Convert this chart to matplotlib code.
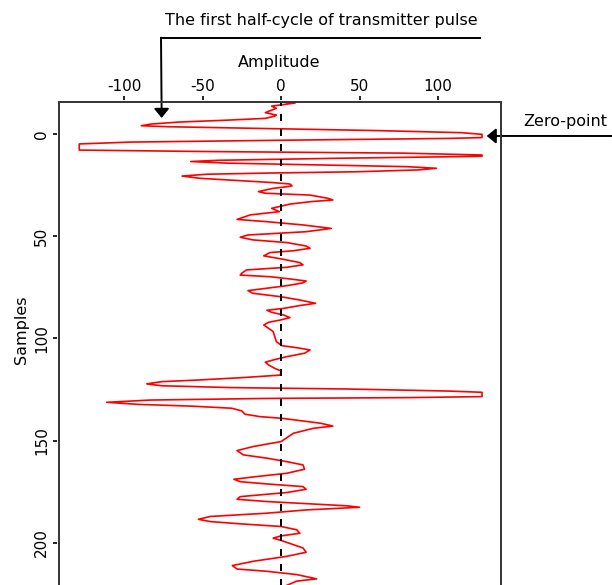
import matplotlib
matplotlib.use('Agg')
import matplotlib.pyplot as plt
from matplotlib.lines import Line2D
from matplotlib.patches import Rectangle

W, H = 612, 585

# trace vertices (sample index, amplitude)
samples = [-15.5, -15.0, -14.5, -13.5, -12.4, -10.3, -9.1, -8.6, -7.5, -6.6,
           -5.7, -4.7, -3.9, -3.4, -2.6, -1.5, -0.5, 0.3, 1.9, 2.3,
           3.1, 4.1, 5.0, 8.0, 8.7, 9.5, 10.4, 11.0, 11.2, 12.0,
           13.0, 13.6, 14.4, 15.3, 16.1, 16.9, 17.7, 18.6, 19.2, 19.8,
           20.7, 21.8, 22.9, 23.9, 24.6, 25.5, 26.0, 26.7, 28.3, 29.1,
           30.0, 31.6, 32.4, 33.2, 34.4, 36.5, 38.1, 39.7, 41.9, 43.0,
           44.6, 46.3, 47.9, 48.7, 49.5, 50.6, 51.9, 53.2, 54.9, 56.0,
           57.2, 58.1, 59.7, 61.4, 63.0, 64.1, 65.3, 66.6, 68.2, 69.1,
           69.9, 71.0, 72.0, 72.9, 74.3, 75.6, 76.7, 78.0, 79.7, 81.3,
           82.9, 84.0, 85.4, 86.3, 87.3, 88.6, 89.9, 91.0, 92.2, 93.5,
           95.1, 96.7, 99.2, 101.6, 103.6, 104.6, 105.7, 107.3, 109.0, 110.6,
           111.7, 113.0, 114.7, 116.0, 118.0, 119.2, 120.4, 121.2, 122.3, 123.2,
           124.1, 124.8, 125.8, 126.4, 128.5, 129.0, 129.4, 130.2, 131.3, 132.3,
           133.2, 134.2, 135.5, 137.1, 138.3, 139.1, 140.4, 141.5, 142.9, 144.0,
           146.4, 150.5, 152.9, 154.9, 157.0, 158.6, 160.3, 161.9, 164.0, 166.0,
           167.6, 168.9, 170.1, 171.2, 172.5, 173.8, 175.4, 177.4, 178.7, 179.8,
           181.0, 181.9, 182.6, 183.9, 185.5, 187.1, 188.5, 189.6, 190.7, 192.0,
           193.6, 195.3, 196.6, 197.7, 198.8, 200.9, 202.5, 204.6, 206.6, 209.0,
           211.1, 212.8, 213.9, 215.5, 217.6, 218.7, 221.0, 224.0]
amplitude = [1, 9, 4, -6, -3, -10, -3, -4, -10, -35,
             -65, -83, -89, -71, -14, 63, 115, 128, 128, 107,
             11, -96, -128.5, -128.5, -49.5, 78, 128, 128, 113, 36.5,
             -40, -57.5, -33.5, 27, 80, 99, 87.5, 48, -5, -47,
             -63, -51.6, -27, -5, 5.7, 7, 3, -5, -14.4, -10,
             18.5, 30, 33, 19, 5.7, -6, -1, -19.7, -28, -9,
             14, 32, 16, -3, -21, -26, -18, 3.6, 16, 18.5,
             8, -7, -11, 1.5, 12, 14, 3.6, -22, -25, -26,
             -7, 5.7, 16, 14, 3.6, -10, -21, -18, 0, 12,
             22, 12, 1.5, -9, -6, 1.5, 5.7, 0, -8, -11,
             -8, -5, -4, -3, 0.5, 10, 18.5, 15, 3.6, -5,
             -10, -8, -4, 0, -0.5, -24, -52.6, -76, -85.5, -76,
             -32.5, 43, 106.6, 128, 128, 82, -9, -83.4, -111, -91,
             -56, -31.4, -25, -23, -13.4, 0.4, 14, 25, 33, 20.6,
             8, 0, -17.6, -28, -24, -9, 3.6, 14, 15, 3.6,
             -15.5, -30, -26, -9, 14, 16, 3.6, -26, -28, -9,
             20.6, 42, 50, 16, -9, -45, -52.6, -45, -26, 0,
             10, 12, 0, -5, 0, 8, 14, 16, 3.6, -17.6,
             -31, -28, -9, 10, 22.7, 10, 3, -6]

x_ticks = [-100, -50, 0, 50, 100]
y_ticks = [0, 50, 100, 150, 200]

top_note = 'The first half-cycle of transmitter pulse'
zero_note = 'Zero-point'


def fpx(x, y):
    # pixel from the top-left corner -> figure pixels
    return x, H - y


plt.rcParams['font.family'] = 'DejaVu Sans'
plt.rcParams['font.size'] = 11.5
plt.rcParams['axes.unicode_minus'] = False

fig = plt.figure(figsize=(W / 100, H / 100), dpi=100)
fig.patch.set_facecolor('white')

# plot box: x 59..501 px, y 102..594 px (bottom is cut by the image edge)
ax = fig.add_axes([59 / W, 1 - 594 / H, 442 / W, 492 / H])

ax.plot(amplitude, samples, color='red', lw=1.2, zorder=2)
ax.axvline(0, color='black', lw=1.44, dashes=(3.5, 4.0), zorder=3)

ax.set_xlim(-141.4, 140.1)
ax.set_ylim(225, -15.5)

ax.xaxis.tick_top()
ax.xaxis.set_label_position('top')
ax.set_xticks(x_ticks)
ax.set_yticks(y_ticks)

for s in ax.spines.values():
    s.set_visible(False)
ax.spines['top'].set_position(('outward', 1.5))
ax.spines['left'].set_position(('outward', 1.5))
ax.tick_params(axis='x', direction='out', length=3, width=1.2, pad=1.5,
               colors='black', labelsize=11)
ax.tick_params(axis='y', direction='out', length=3, width=1.2, pad=2.5,
               colors='black', labelsize=11)
plt.setp(ax.get_yticklabels(), rotation=90, va='center')

ax.add_patch(Rectangle((0, 0), 1, 1, transform=ax.transAxes, fill=False,
                       edgecolor='#333333', lw=1.4, clip_on=False, zorder=4))

ax.set_xlabel('Amplitude')
ax.xaxis.label.set_va('center')
ax.xaxis.set_label_coords((279 - 59) / 442, 1 + (102 - 63) / 492)

ax.set_ylabel('Samples')
ax.yaxis.label.set_va('center')
ax.yaxis.set_label_coords((21.7 - 59) / 442, (594 - 330) / 492)

# annotation: first half-cycle
fig.text(321 / W, 1 - 20.7 / H, top_note, ha='center', va='center')
fig.add_artist(Line2D([480 / W, 161 / W], [1 - 37.7 / H, 1 - 37.7 / H],
                      color='black', lw=1.4))
ax.annotate('', xy=(-76, -7.7), xycoords='data',
            xytext=fpx(161, 37.7), textcoords='figure pixels',
            arrowprops=dict(arrowstyle='-|>,head_length=0.55,head_width=0.45',
                            color='black', lw=1.4, shrinkA=0, shrinkB=0,
                            mutation_scale=10),
            annotation_clip=False)

# annotation: zero-point
fig.text(523 / W, 1 - 121.7 / H, zero_note, ha='left', va='center')
ax.annotate('', xy=(131, 1.1), xycoords='data',
            xytext=fpx(613, 136), textcoords='figure pixels',
            arrowprops=dict(arrowstyle='-|>,head_length=0.55,head_width=0.45',
                            color='black', lw=1.4, shrinkA=0, shrinkB=0,
                            mutation_scale=10),
            annotation_clip=False)

fig.savefig('out.png', dpi=100)
